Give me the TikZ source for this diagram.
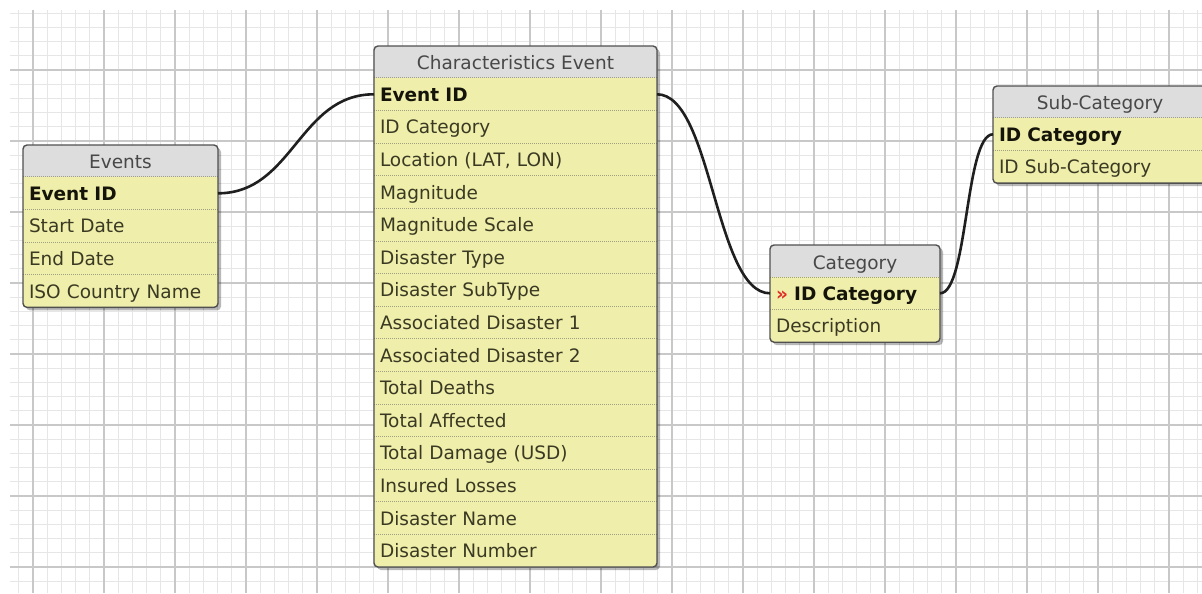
\documentclass[tikz,border=0pt]{standalone}
\usepackage{fontspec}
\setmainfont{DejaVu Sans}
\definecolor{minorc}{RGB}{230,230,230}
\definecolor{majorc}{RGB}{200,200,200}
\definecolor{hdrfill}{RGB}{221,221,221}
\definecolor{bodyfill}{RGB}{239,238,170}
\definecolor{hdrtext}{RGB}{72,72,72}
\definecolor{fldtext}{RGB}{58,58,36}
\definecolor{boldtext}{RGB}{20,20,10}
\definecolor{sepc}{RGB}{160,160,130}
\definecolor{borderc}{RGB}{80,80,80}
\definecolor{keyred}{RGB}{225,45,40}
\pgfdeclarelayer{gridlayer}
\pgfdeclarelayer{bg}
\pgfsetlayers{gridlayer,bg,main}
\newcommand\fldfont{\fontsize{9.25}{11}\selectfont}
\newcommand\kf[1]{\textcolor{boldtext}{\bfseries #1}}
\begin{document}
\begin{tikzpicture}[x=0.5pt,y=-0.5pt,
  minorgrid/.style={draw=minorc, line width=0.5pt},
  majorgrid/.style={draw=majorc, line width=0.6pt},
  hdr/.style={anchor=north west, inner sep=0pt, outer sep=0pt, minimum height=16pt, text height=9pt, text depth=1pt, text=hdrtext, font=\fldfont},
  fld/.style={anchor=north west, inner xsep=3pt, inner ysep=0pt, outer sep=0pt, minimum height=16.3pt, text height=9pt, text depth=2pt, align=left, text=fldtext, font=\fldfont},
  sep/.style={draw=sepc, line width=0.5pt, dash pattern=on 0.5pt off 0.5pt},
  frame/.style={draw=borderc, line width=0.7pt, rounded corners=2pt},
  shadowc/.style={fill=black, opacity=0.28, rounded corners=2pt},
  conn/.style={draw=black!88, line width=1.3pt}]
\useasboundingbox (0,0) rectangle (1202,593);
\clip (0,0) rectangle (1202,593);
% grid
\begin{pgfonlayer}{gridlayer}
\foreach \i in {0,...,83} \draw[minorgrid] (18.8+14.2*\i,10) -- (18.8+14.2*\i,593);
\foreach \j in {0,...,41} \draw[minorgrid] (10,13.2+14.2*\j) -- (1202,13.2+14.2*\j);
\foreach \i in {0,...,16} \draw[majorgrid] (33+71*\i,10) -- (33+71*\i,593);
\foreach \j in {0,...,7} \draw[majorgrid] (10,70+71*\j) -- (1202,70+71*\j);
\end{pgfonlayer}

% Events
\node[hdr, minimum width=97.5pt] (ev) at (23,145) {Events};
\node[fld, text width=91.5pt] (ev1) at (ev.south west) {\kf{Event ID}};
\node[fld, text width=91.5pt] (ev2) at (ev1.south west) {Start Date};
\node[fld, text width=91.5pt] (ev3) at (ev2.south west) {End Date};
\node[fld, text width=91.5pt] (ev4) at (ev3.south west) {ISO Country Name};

% Characteristics Event
\node[hdr, minimum width=141.5pt] (ce) at (374,46) {Characteristics Event};
\node[fld, text width=135.5pt] (ce1) at (ce.south west) {\kf{Event ID}};
\node[fld, text width=135.5pt] (ce2) at (ce1.south west) {ID Category};
\node[fld, text width=135.5pt] (ce3) at (ce2.south west) {Location (LAT, LON)};
\node[fld, text width=135.5pt] (ce4) at (ce3.south west) {Magnitude};
\node[fld, text width=135.5pt] (ce5) at (ce4.south west) {Magnitude Scale};
\node[fld, text width=135.5pt] (ce6) at (ce5.south west) {Disaster Type};
\node[fld, text width=135.5pt] (ce7) at (ce6.south west) {Disaster SubType};
\node[fld, text width=135.5pt] (ce8) at (ce7.south west) {Associated Disaster 1};
\node[fld, text width=135.5pt] (ce9) at (ce8.south west) {Associated Disaster 2};
\node[fld, text width=135.5pt] (ce10) at (ce9.south west) {Total Deaths};
\node[fld, text width=135.5pt] (ce11) at (ce10.south west) {Total Affected};
\node[fld, text width=135.5pt] (ce12) at (ce11.south west) {Total Damage (USD)};
\node[fld, text width=135.5pt] (ce13) at (ce12.south west) {Insured Losses};
\node[fld, text width=135.5pt] (ce14) at (ce13.south west) {Disaster Name};
\node[fld, text width=135.5pt] (ce15) at (ce14.south west) {Disaster Number};

% Category
\node[hdr, minimum width=85pt] (cat) at (770,245) {Category};
\node[fld, text width=79pt] (cat1) at (cat.south west) {\textcolor{keyred}{\bfseries »} \kf{ID Category}};
\node[fld, text width=79pt] (cat2) at (cat1.south west) {Description};

% Sub-Category
\node[hdr, minimum width=107pt] (sub) at (993,86) {Sub-Category};
\node[fld, text width=101pt] (sub1) at (sub.south west) {\kf{ID Category}};
\node[fld, text width=101pt] (sub2) at (sub1.south west) {ID Sub-Category};

% frames on background layer
\begin{pgfonlayer}{bg}
\foreach \h/\l in {ev/ev4, ce/ce15, cat/cat2, sub/sub2} {
  \fill[shadowc] ([xshift=1.5pt,yshift=-1.5pt]\h.north west) rectangle ([xshift=1.5pt,yshift=-1.5pt]\l.south east);
  \begin{scope}
    \clip[rounded corners=2pt] (\h.north west) rectangle (\l.south east);
    \fill[bodyfill] (\h.north west) rectangle (\l.south east);
    \fill[hdrfill] (\h.north west) rectangle (\h.south east);
  \end{scope}
}
\end{pgfonlayer}
% separators
\foreach \r in {ev1,ev2,ev3,ev4,ce1,ce2,ce3,ce4,ce5,ce6,ce7,ce8,ce9,ce10,ce11,ce12,ce13,ce14,ce15,cat1,cat2,sub1,sub2}
  \draw[sep] (\r.north west) -- (\r.north east);
% borders
\draw[frame] (ev.north west) rectangle (ev4.south east);
\draw[frame] (ce.north west) rectangle (ce15.south east);
\draw[frame] (cat.north west) rectangle (cat2.south east);
\draw[frame] (sub.north west) rectangle (sub2.south east);

% connectors
\draw[conn] (ev1.east) .. controls +(75,0) and +(-75,0) .. (ce1.west);
\draw[conn] (ce1.east) .. controls +(55,0) and +(-55,0) .. (cat1.west);
\draw[conn] (cat1.east) .. controls +(28,0) and +(-28,0) .. (sub1.west);
\end{tikzpicture}
\end{document}
